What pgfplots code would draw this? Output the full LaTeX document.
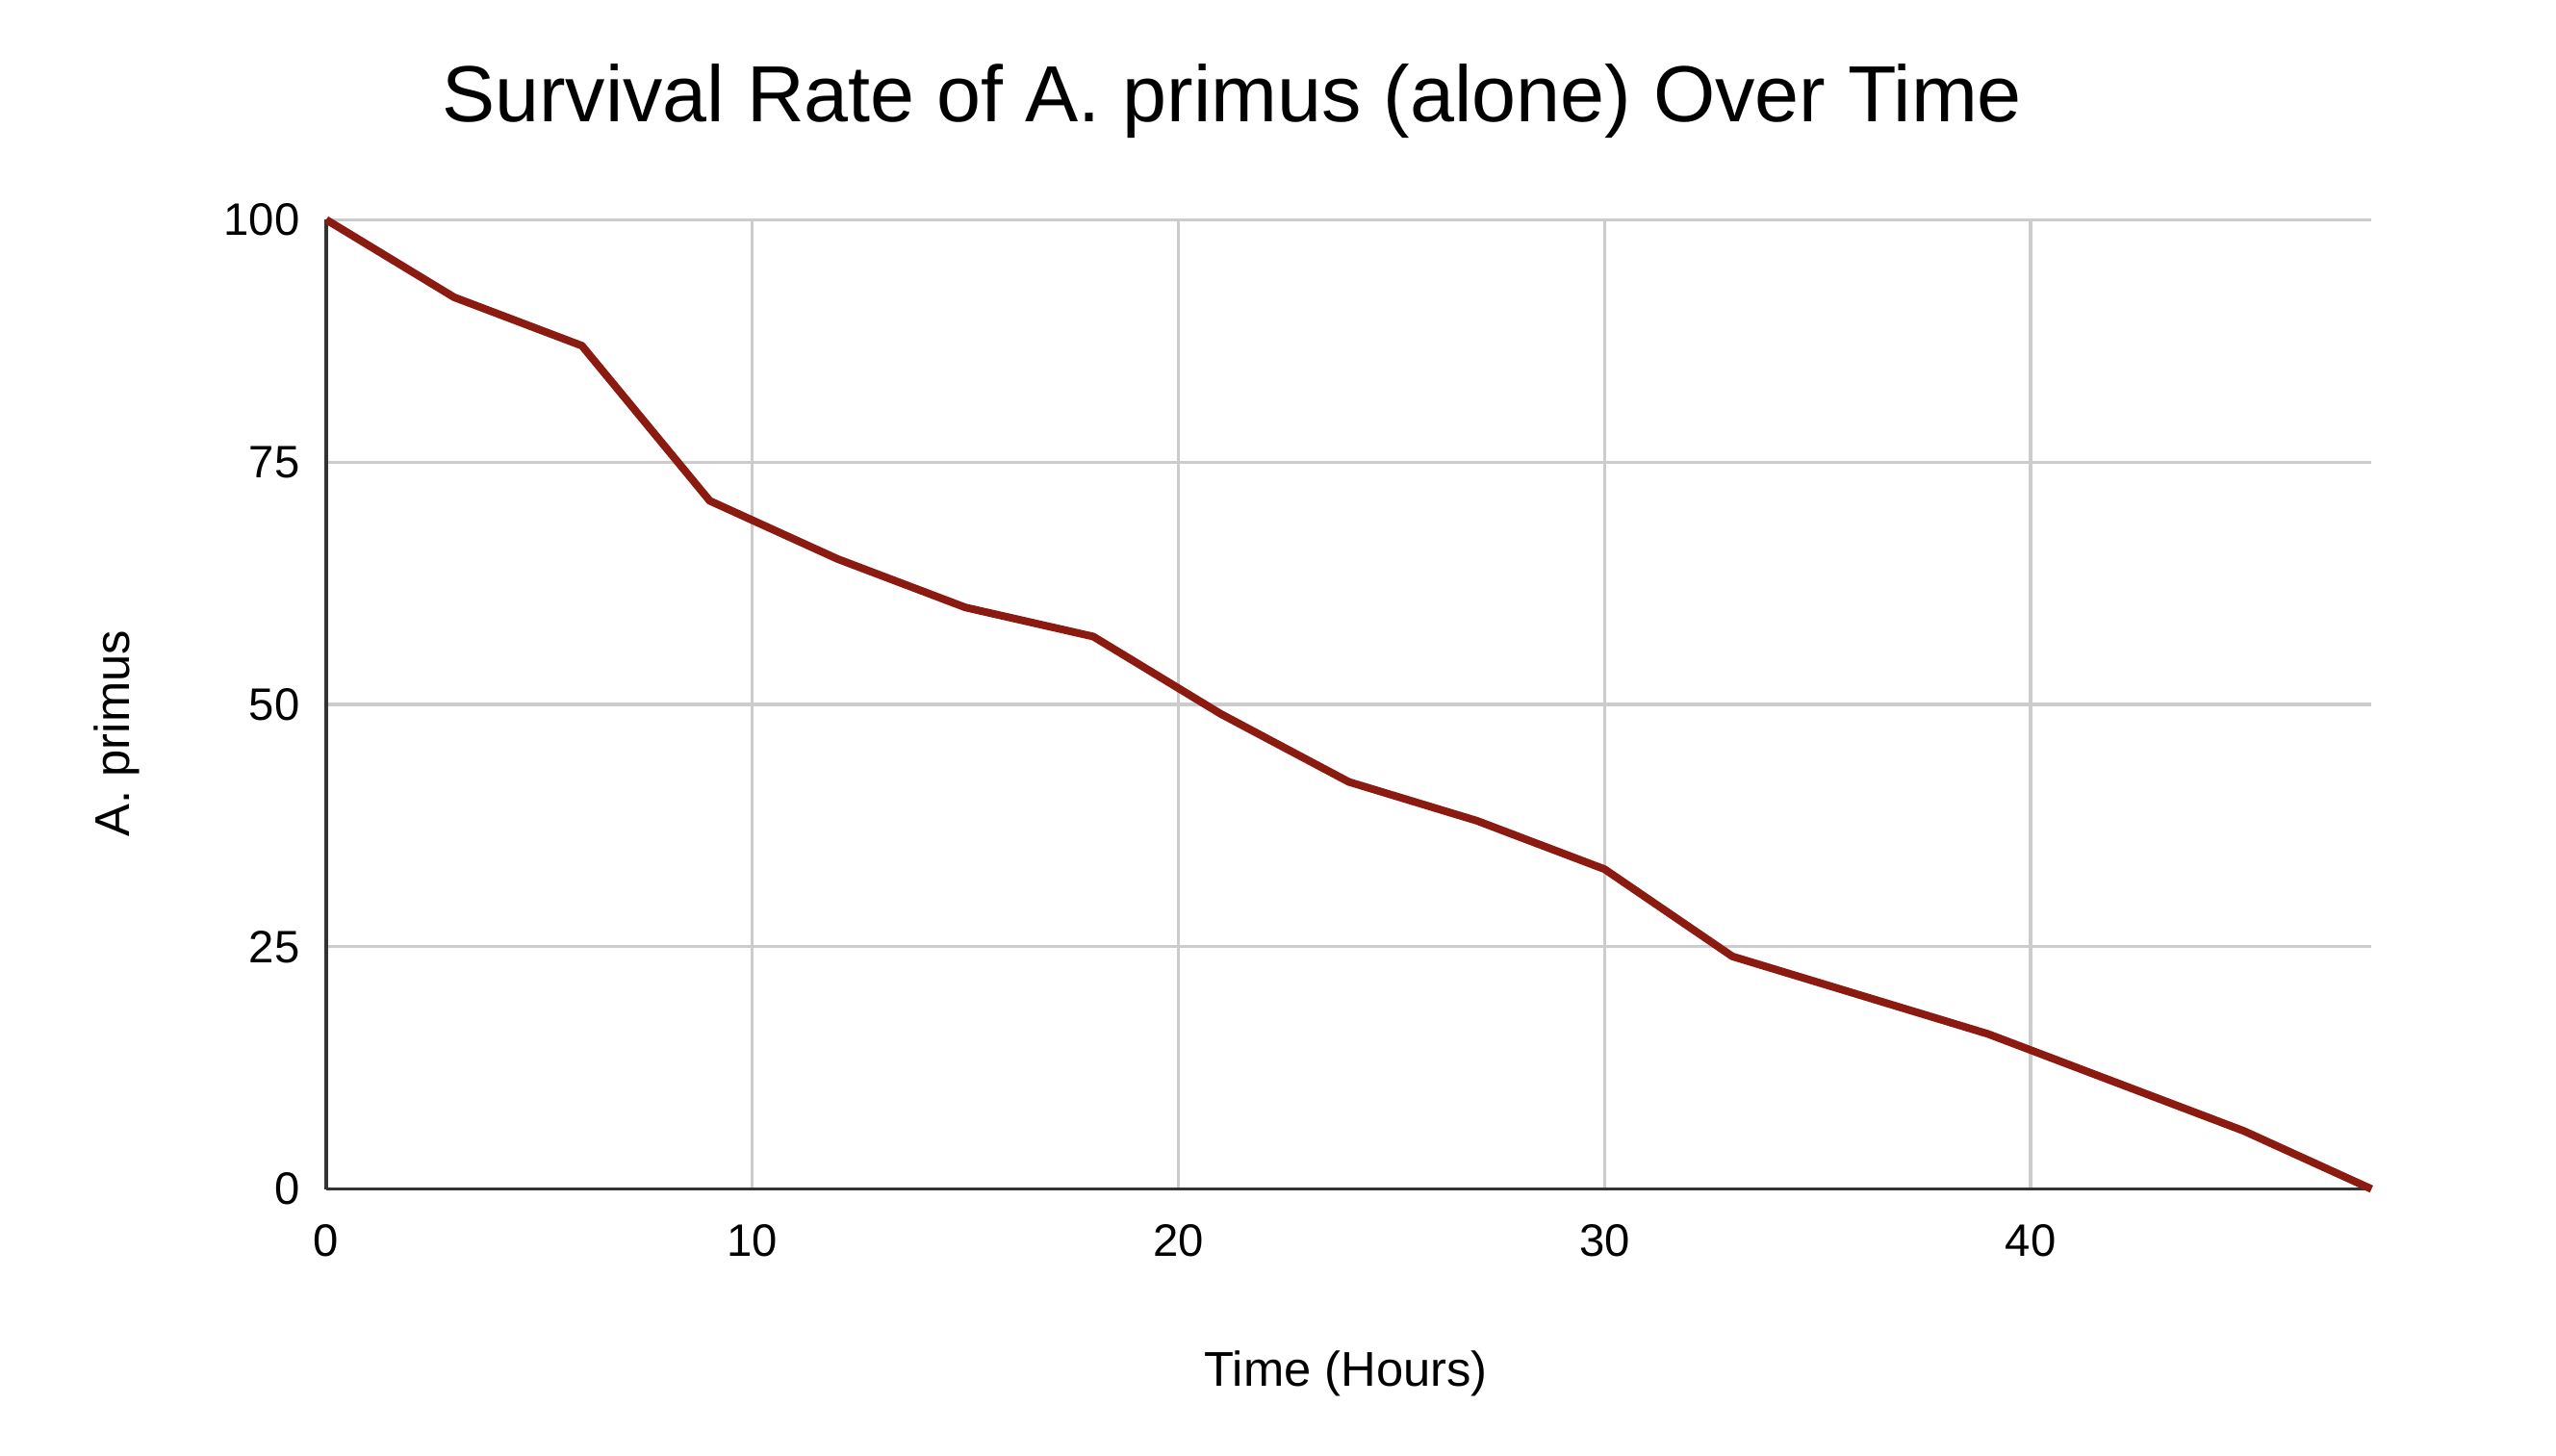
\documentclass[border=0pt]{standalone}
\usepackage{pgfplots}
\pgfplotsset{compat=1.18}
\usepackage{fontspec}
\setmainfont{Liberation Sans}
\definecolor{linered}{HTML}{8B1A10}
\definecolor{gridgray}{HTML}{CCCCCC}
\definecolor{axisdark}{HTML}{333333}
\begin{document}
\begin{tikzpicture}
\path[use as bounding box] (-3.43cm,-2.80cm) rectangle (23.44cm,12.50cm);
\begin{axis}[
  scale only axis,
  width=21.5cm, height=10.19cm,
  at={(0,0)}, anchor=south west,
  xmin=0, xmax=48, ymin=0, ymax=100,
  xtick={0,10,20,30,40},
  ytick={0,25,50,75,100},
  grid=major,
  major grid style={gridgray, line width=0.9pt},
  axis lines=left,
  axis line style={axisdark, line width=0.9pt, -},
  tick style={draw=none},
  ticklabel style={font=\fontsize{13.6}{15}\selectfont, text=black},
  /pgf/number format/assume math mode=true,
  xticklabel style={yshift=-0.17cm},
  yticklabel style={xshift=-0.08cm},
  clip=false,
]
\addplot[linered, line width=2.3pt, line join=round] coordinates {
(0,100) (3,92) (6,87) (9,71) (12,65) (15,60) (18,57) (21,49) (24,42)
(27,38) (30,33) (33,24) (36,20) (39,16) (42,11) (45,6) (48,0)
};
\end{axis}
\node[font=\fontsize{23.8}{28}\selectfont] at (9.52cm,11.44cm) {Survival Rate of A. primus (alone) Over Time};
\node[font=\fontsize{14.6}{17}\selectfont, rotate=90] at (-2.20cm,4.79cm) {A. primus};
\node[font=\fontsize{14.6}{17}\selectfont] at (10.72cm,-1.94cm) {Time (Hours)};
\end{tikzpicture}
\end{document}
